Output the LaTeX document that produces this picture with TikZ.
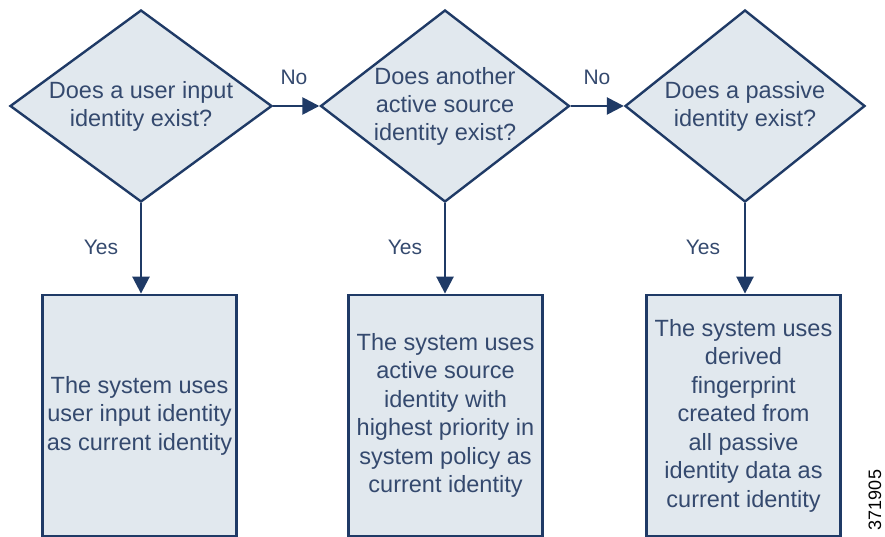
\documentclass[tikz,border=0pt]{standalone}
\usepackage{fontspec}
\setmainfont{Liberation Sans}
\usetikzlibrary{shapes.geometric,arrows.meta}
\definecolor{edge}{HTML}{1F3A66}
\definecolor{boxfill}{HTML}{E1E8EE}
\definecolor{txt}{HTML}{34496E}
\tikzset{
  decision/.style={shape=diamond,draw=edge,fill=boxfill,line width=2.4pt,inner sep=0pt,minimum height=192pt},
  qtext/.style={text=txt,align=center,font=\fontsize{23.5}{28}\selectfont,inner sep=0pt},
  outcome/.style={draw=edge,fill=boxfill,line width=2.8pt,minimum width=194pt,minimum height=241pt,inner sep=0pt,text=txt,align=center,font=\fontsize{23.5}{28.5}\selectfont},
  arr/.style={draw=edge,line width=2.6pt,-{Triangle[length=17pt,width=17pt]}},
  lbl/.style={text=txt,font=\fontsize{21}{24}\selectfont,inner sep=0pt}
}
\begin{document}
\begin{tikzpicture}[x=1pt,y=-1pt]
\useasboundingbox (0,0) rectangle (885,537);
\node[decision,minimum width=262pt] (d1) at (141,106) {};
\node[qtext] (t1) at (d1.center) {Does a user input\\identity exist?};
\node[decision,minimum width=249pt] (d2) at (445,106) {};
\node[qtext] (t2) at (d2.center) {Does another\\active source\\identity exist?};
\node[decision,minimum width=240pt] (d3) at (745,106) {};
\node[qtext] (t3) at (d3.center) {Does a passive\\identity exist?};

\node[outcome] (b1) at (139.5,415.5) {The system uses\\user input identity\\as current identity};
\node[outcome] (b2) at (445.5,415.5) {The system uses\\active source\\identity with\\highest priority in\\system policy as\\current identity};
\node[outcome] (b3) at (743.5,415.5) {The system uses\\derived\\fingerprint\\created from\\all passive\\identity data as\\current identity};

\draw[arr] (d1.east) -- (d2.west);
\draw[arr] (d2.east) -- (d3.west);
\draw[arr] (d1.south) -- (d1.south |- b1.north);
\draw[arr] (d2.south) -- (d2.south |- b2.north);
\draw[arr] (d3.south) -- (d3.south |- b3.north);

\node[lbl] (n1) at (294,77) {No};
\node[lbl] (n2) at (597,77) {No};
\node[lbl] (y1) at (101,247) {Yes};
\node[lbl] (y2) at (405,247) {Yes};
\node[lbl] (y3) at (703,247) {Yes};

\node[rotate=90,font=\fontsize{18}{21}\selectfont,inner sep=0pt] (fig) at (875,500) {371905};
\end{tikzpicture}
\end{document}
